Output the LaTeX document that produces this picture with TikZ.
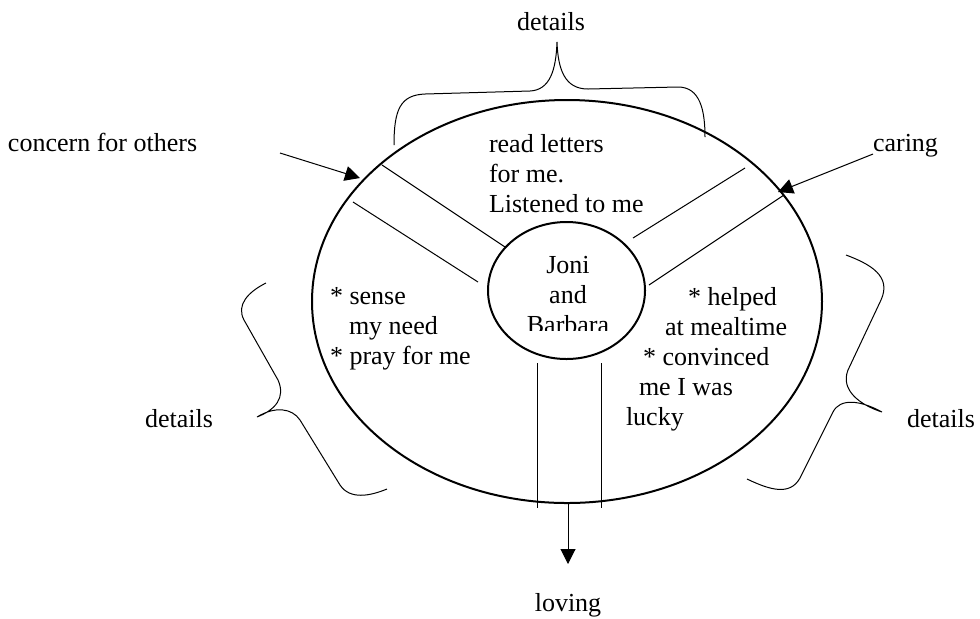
\documentclass[tikz,border=0pt]{standalone}
\usepackage{fontspec}
\setmainfont{Liberation Serif}
\usetikzlibrary{arrows.meta}
\begin{document}
\begin{tikzpicture}[x=0.5pt,y=-0.5pt,
  every node/.style={font=\fontsize{13pt}{15pt}\selectfont, inner sep=0pt, outer sep=0pt},
  txt/.style={anchor=base west},
  ctxt/.style={anchor=base},
  oval/.style={line width=1pt},
  thin/.style={line width=0.5pt},
  brace/.style={line width=0.5pt},
  arr/.style={line width=0.5pt, -{Triangle[length=7.5pt,width=7.5pt]}}]
\useasboundingbox (0,0) rectangle (980,618);
% ellipses
\draw[oval] (567,301.5) ellipse [x radius=255, y radius=201.5];
\draw[oval] (566.5,290.5) ellipse [x radius=78.5, y radius=68.5];
% spokes
\coordinate (ul1a) at (382,165); \coordinate (ul1b) at (505,247);
\coordinate (ul2a) at (353,202); \coordinate (ul2b) at (478,282);
\coordinate (ur1a) at (745,168); \coordinate (ur1b) at (633,238);
\coordinate (ur2a) at (784,195); \coordinate (ur2b) at (649,285);
\coordinate (b1a) at (537,363); \coordinate (b1b) at (537,508);
\coordinate (b2a) at (601,363); \coordinate (b2b) at (601,508);
\draw[thin] (ul1a) -- (ul1b);
\draw[thin] (ul2a) -- (ul2b);
\draw[thin] (ur1a) -- (ur1b);
\draw[thin] (ur2a) -- (ur2b);
\draw[thin] (b1a) -- (b1b);
\draw[thin] (b2a) -- (b2b);
% arrows
\coordinate (cstart) at (280,153); \coordinate (ctip) at (360,178);
\coordinate (rstart) at (873,154); \coordinate (rtip) at (778,192);
\coordinate (dstart) at (568,503); \coordinate (dtip) at (568,564);
\draw[arr] (cstart) -- (ctip);
\draw[arr] (rstart) -- (rtip);
\draw[arr] (dstart) -- (dtip);
% braces
\draw[brace] (394,145) .. controls (394,110) and (400,95) .. (425,94) -- (530,91)
  .. controls (550,90) and (556,70) .. (557,42)
  .. controls (558,70) and (565,89) .. (588,89) -- (678,87)
  .. controls (700,87) and (705,110) .. (705,137);
\draw[brace] (266,283) .. controls (248,292) and (236,305) .. (244,320) -- (278,380)
  .. controls (286,398) and (275,410) .. (257,417)
  .. controls (275,406) and (292,408) .. (300,420) -- (340,485)
  .. controls (350,500) and (370,496) .. (387,489);
\draw[brace] (846,255) .. controls (870,264) and (892,276) .. (881,300) -- (848,370)
  .. controls (840,390) and (860,405) .. (882,412)
  .. controls (860,400) and (840,398) .. (833,412) -- (800,478)
  .. controls (790,496) and (770,490) .. (747,479);
% labels
\node[ctxt] (dtop) at (551,30) {details};
\node[txt] (concern) at (8,151) {concern for others};
\node[txt] (caring) at (873,151) {caring};
\node[txt] (dleft) at (145,427) {details};
\node[txt] (dright) at (907,427) {details};
\node[ctxt] (loving) at (568,611) {loving};
% top text
\node[txt] (t1) at (489,152) {read letters};
\node[txt] (t2) at (489,182) {for me.};
\node[txt] (t3) at (489,212) {Listened to me};
% center text (clipped)
\begin{scope}
\clip (480,230) rectangle (660,330);
\node[ctxt] (c1) at (568,273) {Joni};
\node[ctxt] (c2) at (568,303) {and};
\node[ctxt] (c3) at (568,333) {Barbara};
\end{scope}
% left text
\node[txt] (l1) at (330,304) {* sense};
\node[txt] (l2) at (349,334) {my need};
\node[txt] (l3) at (330,364) {* pray for me};
% right text
\node[txt] (r1) at (688,305) {* helped};
\node[txt] (r2) at (665,335) {at mealtime};
\node[txt] (r3) at (643,365) {* convinced};
\node[txt] (r4) at (639,395) {me I was};
\node[txt] (r5) at (626,425) {lucky};
\end{tikzpicture}
\end{document}
